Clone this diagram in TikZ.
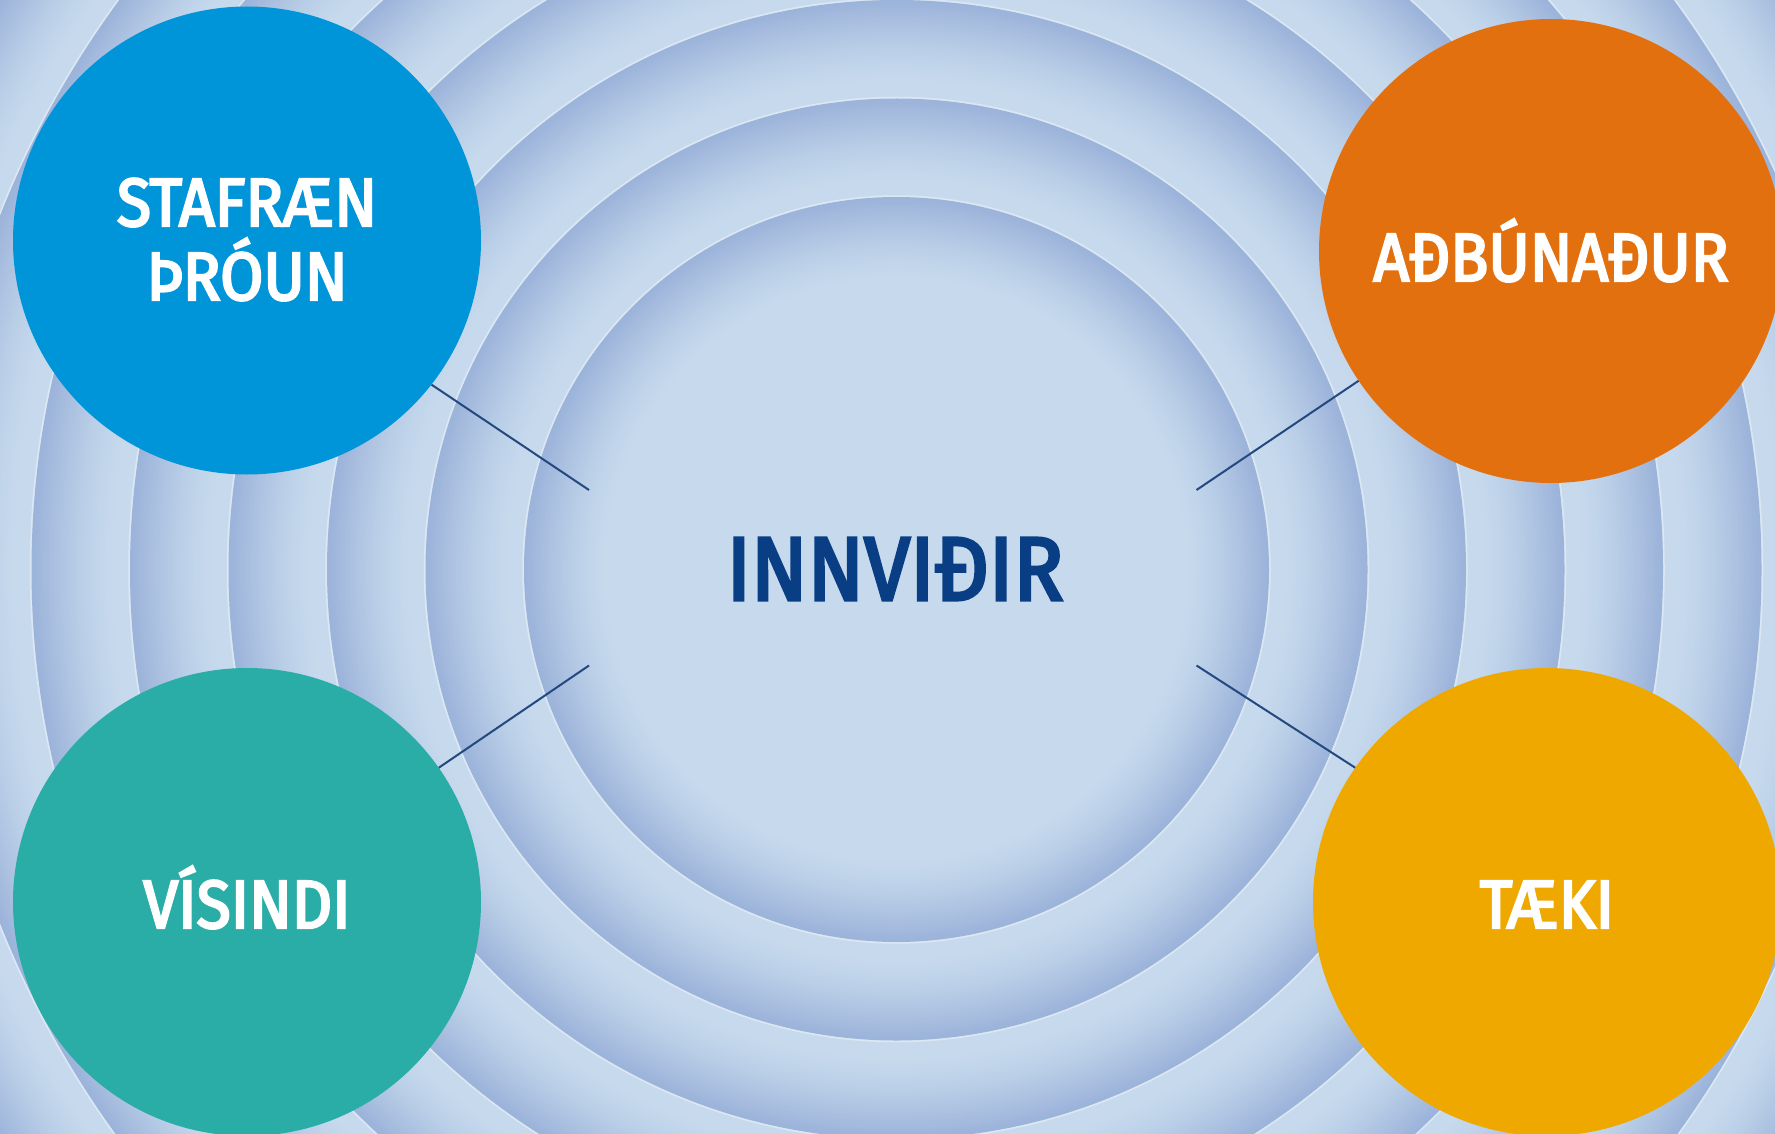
\documentclass[tikz,border=0pt]{standalone}
\usepackage{fontspec}
\setmainfont{Fira Sans}[BoldFont={Fira Sans}, BoldFeatures={FakeBold=3.5, FakeStretch=0.92}]
\definecolor{bgl}{HTML}{C7DAED}
\definecolor{bgd}{HTML}{9CB3DA}
\definecolor{cblue}{HTML}{0094D9}
\definecolor{corange}{HTML}{E3700F}
\definecolor{cteal}{HTML}{2AADA7}
\definecolor{cyellow}{HTML}{EFA800}
\definecolor{ctext}{HTML}{0A3E84}
\definecolor{cline}{HTML}{23497F}
\tikzset{
  topic/.style={circle, inner sep=0pt, minimum size=#1},
  lbl/.style={text=white, font=\bfseries\fontsize{68}{74}\selectfont, inner sep=0pt, anchor=base},
  conn/.style={draw=cline, line width=2pt},
}
\begin{document}
\begin{tikzpicture}[x=1pt,y=-1pt]
\useasboundingbox (0,0) rectangle (1775,1134);
\coordinate (C) at (896.5,569.5);
\begin{scope}
\clip (0,0) rectangle (1775,1134);
\fill[bgd!50!bgl] (0,0) rectangle (1775,1134);
\foreach \k in {8,7,...,0}{
  \pgfmathsetmacro\R{372.5+98.5*\k}
  \foreach \j in {0,...,34}{
    \pgfmathsetmacro\rr{\R-2.5*\j}
    \pgfmathsetmacro\f{100*(1-\j/34)^1.4}
    \fill[bgd!\f!bgl] (C) circle (\rr pt);
  }
  \draw[white!35!bgl, line width=1.5pt] (C) circle (\R pt + 1pt);
}
\end{scope}
\node[font=\bfseries\fontsize{90}{100}\selectfont, text=ctext, inner sep=0pt, anchor=base] (inn) at (895,600) {INNVIÐIR};
\node[topic=468pt, fill=cblue] (dig) at (247,240.5) {};
\node[topic=464pt, fill=corange] (adb) at (1551,251) {};
\node[topic=468pt, fill=cteal] (vis) at (247,902) {};
\node[topic=468pt, fill=cyellow] (tae) at (1547,902) {};
\node[lbl] (dig1) at (247,226) {STAFRÆN};
\node[lbl] (dig2) at (247,300) {ÞRÓUN};
\node[lbl] (adbt) at (1551,281) {AÐBÚNAÐUR};
\node[lbl] (vist) at (247,928) {VÍSINDI};
\node[lbl] (taet) at (1547,928) {TÆKI};
\coordinate (e1) at (589,490);
\coordinate (e2) at (1196.5,490);
\coordinate (e3) at (589,665.5);
\coordinate (e4) at (1196.5,665.5);
\draw[conn] (dig.-38.7) -- (e1);
\draw[conn] (adb.214.8) -- (e2);
\draw[conn] (vis.35.9) -- (e3);
\draw[conn] (tae.145.5) -- (e4);
\end{tikzpicture}
\end{document}
